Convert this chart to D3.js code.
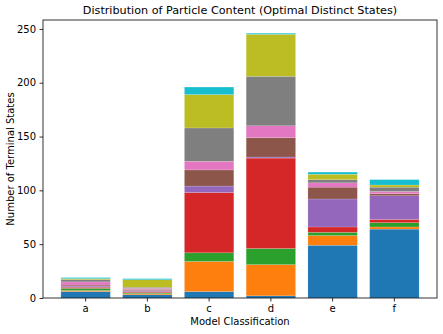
<!DOCTYPE html>
<html>
  <head>
    <meta charset="UTF-8" />
    <style>
      body { margin: 0; background: #fff; }
      text { font-family: "DejaVu Sans", sans-serif; fill: #000; }
    </style>
  </head>
  <body>
    <svg></svg>
    <script src="https://d3js.org/d3.v7.min.js"></script>
    <script>
      let width = 443,
        height = 334;

      // categories and one value list per stacked layer (bottom to top)
      var categories = ["a", "b", "c", "d", "e", "f"];
      var layer0 = [6, 3, 6, 2, 49, 64];
      var layer1 = [1, 1, 28, 29, 9, 2];
      var layer2 = [2, 1, 8, 15, 3, 4];
      var layer3 = [1, 1, 56, 84, 5, 3];
      var layer4 = [1, 1, 6, 1, 26, 22];
      var layer5 = [1, 1, 15, 18, 11, 2];
      var layer6 = [3, 1, 8, 11, 4, 2];
      var layer7 = [2, 1, 31, 46, 3, 4];
      var layer8 = [1, 7, 31, 39, 5, 2];
      var layer9 = [1, 1, 7, 1, 2, 5];
      var yTicks = [0, 50, 100, 150, 200, 250];

      var layers = [layer0, layer1, layer2, layer3, layer4, layer5, layer6, layer7, layer8, layer9];
      var colors = d3.schemeCategory10;

      // table for d3.stack
      var table = categories.map(function (c, i) {
        var row = { cat: c };
        layers.forEach(function (l, k) { row["s" + k] = l[i]; });
        return row;
      });
      var keys = layers.map(function (l, k) { return "s" + k; });
      var series = d3.stack().keys(keys)(table);

      var margin = { left: 43, right: 6, top: 20, bottom: 36 };

      let svg = d3.select("svg").attr("width", width).attr("height", height);

      var maxTotal = d3.max(table, function (d) {
        return d3.sum(keys, function (k) { return d[k]; });
      });

      var x = d3
        .scaleBand()
        .domain(categories)
        .range([margin.left, width - margin.right])
        .paddingInner(0.2)
        .paddingOuter(0.29);

      var y = d3
        .scaleLinear()
        .domain([0, maxTotal * 1.05])
        .range([height - margin.bottom, margin.top]);

      svg
        .append("g")
        .selectAll("g")
        .data(series)
        .enter()
        .append("g")
        .attr("fill", function (d, i) { return colors[i]; })
        .selectAll("rect")
        .data(function (d) { return d; })
        .enter()
        .append("rect")
        .attr("x", function (d) { return x(d.data.cat); })
        .attr("width", x.bandwidth())
        .attr("y", function (d) { return y(d[1]); })
        .attr("height", function (d) { return y(d[0]) - y(d[1]); })
        .attr("stroke", "white")
        .attr("stroke-opacity", 0.3)
        .attr("stroke-width", 0.5);

      // frame
      svg
        .append("rect")
        .attr("x", margin.left)
        .attr("y", margin.top)
        .attr("width", width - margin.left - margin.right)
        .attr("height", height - margin.top - margin.bottom)
        .attr("fill", "none")
        .attr("stroke", "#000")
        .attr("stroke-width", 0.8);

      var xAxis = svg
        .append("g")
        .attr("transform", "translate(0," + (height - margin.bottom) + ")")
        .call(d3.axisBottom(x).tickSize(3.5).tickPadding(3.5));
      var yAxis = svg
        .append("g")
        .attr("transform", "translate(" + margin.left + ",0)")
        .call(d3.axisLeft(y).tickValues(yTicks).tickSize(3.5).tickPadding(3.5));

      [xAxis, yAxis].forEach(function (g) {
        g.select(".domain").remove();
        g.selectAll("line").attr("stroke", "#000").attr("stroke-width", 0.8);
        g.selectAll("text").style("font-size", "10px").attr("font-family", "DejaVu Sans");
      });

      svg
        .append("text")
        .attr("x", (margin.left + width - margin.right) / 2)
        .attr("y", 14)
        .attr("text-anchor", "middle")
        .style("font-size", "11.2px")
        .text("Distribution of Particle Content (Optimal Distinct States)");

      svg
        .append("text")
        .attr("x", (margin.left + width - margin.right) / 2)
        .attr("y", 325)
        .attr("text-anchor", "middle")
        .style("font-size", "10px")
        .text("Model Classification");

      svg
        .append("text")
        .attr("transform", "translate(14," + (margin.top + height - margin.bottom) / 2 + ") rotate(-90)")
        .attr("text-anchor", "middle")
        .style("font-size", "10px")
        .text("Number of Terminal States");
    </script>
  </body>
</html>
